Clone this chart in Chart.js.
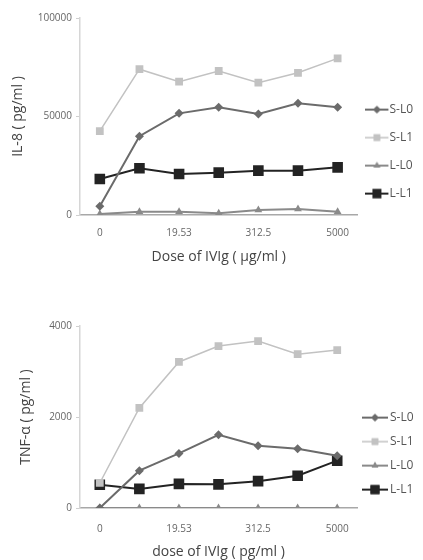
<!DOCTYPE html>
<html>
<head>
<meta charset="utf-8">
<script src="https://cdn.jsdelivr.net/npm/chart.js@4.4.0/dist/chart.umd.min.js"></script>
<style>
  body { margin: 0; background: #fff; }
  .box { position: relative; width: 423px; }
</style>
</head>
<body>
<div class="box" style="height:265px"><canvas id="il8Chart"></canvas></div>
<div class="box" style="height:295px"><canvas id="tnfChart"></canvas></div>
<script>
// doses of IVIg (4x dilution series)
var doses = ['0', '4.88', '19.53', '78.13', '312.5', '1250', '5000'];
var seriesNames = ['S-L0', 'S-L1', 'L-L0', 'L-L1'];

// IL-8 (pg/ml)
var il8SL0 = [4500, 40000, 51600, 54700, 51300, 56700, 54700];
var il8SL1 = [42600, 74000, 67700, 73100, 67200, 72200, 79500];
var il8LL0 = [500, 1700, 1700, 900, 2500, 3100, 1700];
var il8LL1 = [18300, 23700, 20800, 21500, 22500, 22500, 24200];
var il8Ticks = [0, 50000, 100000];

// TNF-a (pg/ml)
var tnfSL0 = [0, 820, 1200, 1610, 1370, 1300, 1150];
var tnfSL1 = [550, 2200, 3210, 3560, 3670, 3380, 3470];
var tnfLL0 = [0, 0, 0, 0, 0, 0, 0];
var tnfLL1 = [510, 420, 530, 520, 590, 710, 1040];
var tnfTicks = [0, 2000, 4000];

var styles = [
    { color: '#6b6b6b', shape: 'rectRot', radius: 4.5, width: 2 },
    { color: '#c2c2c2', shape: 'rect', radius: 5.5, width: 1.5 },
    { color: '#8a8a8a', shape: 'triangle', radius: 4.5, width: 2 },
    { color: '#232323', shape: 'rect', radius: 7.5, width: 2 }
];

// line+marker icon for the legend (w = image width, len = line length)
function legendIcon(st, w, len) {
    var c = document.createElement('canvas');
    c.width = w; c.height = 16;
    var g = c.getContext('2d');
    g.strokeStyle = st.color;
    g.lineWidth = st.width;
    g.beginPath(); g.moveTo(0, 8); g.lineTo(len, 8); g.stroke();
    g.fillStyle = st.color;
    Chart.helpers.drawPoint(g, { pointStyle: st.shape, radius: st.radius * 0.85, borderWidth: 0 }, len / 2, 8);
    g.fill();
    return c;
}

function makeDatasets(arrays) {
    return arrays.map(function (vals, i) {
        var st = styles[i];
        return {
            label: seriesNames[i],
            data: vals,
            borderColor: st.color,
            backgroundColor: st.color,
            borderWidth: st.width,
            pointStyle: st.shape,
            pointRadius: st.radius,
            pointBorderWidth: 0,
            tension: 0
        };
    });
}

function makeChart(id, arrays, tickVals, yTitle, xTitle, o) {
    var ctx = document.getElementById(id).getContext('2d');
    return new Chart(ctx, {
        type: 'line',
        data: { labels: doses, datasets: makeDatasets(arrays) },
        options: {
            responsive: true,
            maintainAspectRatio: false,
            animation: false,
            layout: { padding: { top: o.padTop, left: 0, right: 0, bottom: 0 } },
            plugins: {
                tooltip: { enabled: false },
                legend: {
                    position: 'right',
                    maxWidth: 66,
                    title: { display: true, text: ' ', font: { size: 1 }, padding: { top: o.legShift, bottom: 0 } },
                    labels: {
                        usePointStyle: true,
                        pointStyleWidth: o.boxW,
                        padding: o.legGap,
                        color: '#555',
                        font: { family: 'Open Sans', size: 12 },
                        generateLabels: function (chart) {
                            return Chart.defaults.plugins.legend.labels.generateLabels(chart).map(function (l, i) {
                                l.pointStyle = legendIcon(styles[i], o.iconW, o.lineLen);
                                return l;
                            });
                        }
                    }
                }
            },
            scales: {
                x: {
                    offset: true,
                    grid: { display: false, drawTicks: false },
                    border: { display: true, color: '#a8a8a8', width: 1.5 },
                    ticks: {
                        autoSkip: false, maxRotation: 0, padding: o.xTickPad,
                        color: '#666', font: { family: 'Open Sans', size: 10 },
                        callback: function (v, i) { return i % 2 === 0 ? this.getLabelForValue(v) : ''; }
                    },
                    title: { display: true, text: xTitle, color: '#444', font: { family: 'Open Sans', size: 14 }, padding: { top: 0, bottom: o.xTitleBottom } },
                    afterFit: function (s) { s.height = o.xHeight; }
                },
                y: {
                    min: tickVals[0],
                    max: tickVals[tickVals.length - 1],
                    grid: { display: true, drawOnChartArea: false, drawTicks: true, tickLength: 4, color: '#cfcfcf' },
                    border: { display: true, color: '#d6d6d6', width: 1.5 },
                    afterBuildTicks: function (s) { s.ticks = tickVals.map(function (v) { return { value: v }; }); },
                    ticks: {
                        padding: 4, color: '#666', font: { family: 'Open Sans', size: 10 },
                        callback: function (v) { return String(v); }
                    },
                    title: { display: true, text: yTitle, color: '#444', font: { family: 'Open Sans', size: 14 }, padding: { top: o.yTitleLeft, bottom: 0 } },
                    afterFit: function (s) { s.width = 80; }
                }
            }
        }
    });
}

makeChart('il8Chart', [il8SL0, il8SL1, il8LL0, il8LL1], il8Ticks,
    'IL-8 ( pg/ml )', 'Dose of IVIg ( µg/ml )',
    { padTop: 18, legShift: 19, legGap: 16, boxW: 10, iconW: 26, lineLen: 23, xHeight: 50, xTickPad: 12, xTitleBottom: 0, yTitleLeft: 10 });
makeChart('tnfChart', [tnfSL0, tnfSL1, tnfLL0, tnfLL1], tnfTicks,
    'TNF-α ( pg/ml )', 'dose of IVIg ( pg/ml )',
    { padTop: 61, legShift: 20, legGap: 12, boxW: 15, iconW: 29, lineLen: 26, xHeight: 52, xTickPad: 15, xTitleBottom: 0, yTitleLeft: 18 });
</script>
</body>
</html>
